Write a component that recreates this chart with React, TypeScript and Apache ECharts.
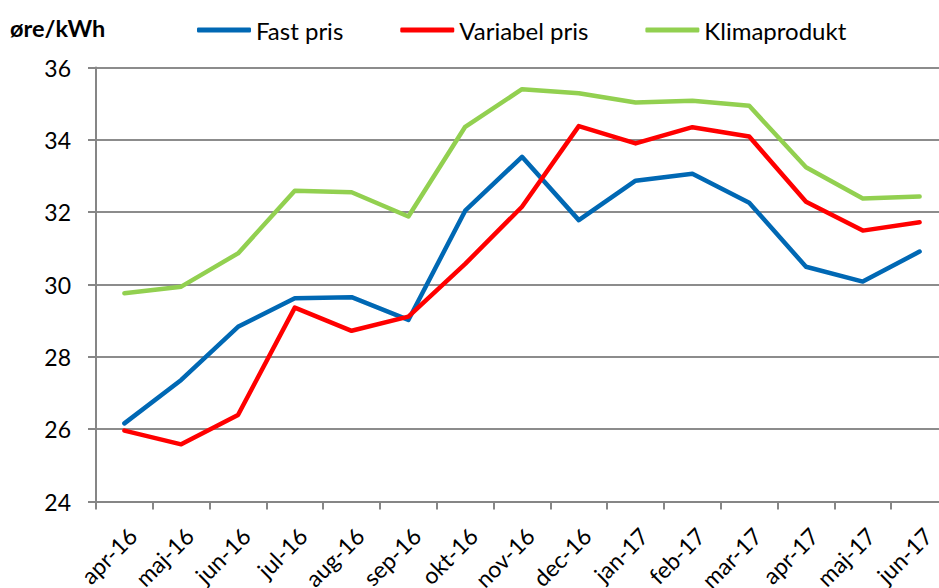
import React, { useEffect, useRef } from "react";
import * as echarts from "echarts";

const categories = [
  "apr-16", "maj-16", "jun-16", "jul-16", "aug-16", "sep-16", "okt-16", "nov-16",
  "dec-16", "jan-17", "feb-17", "mar-17", "apr-17", "maj-17", "jun-17",
];
const fastPris = [26.16, 27.36, 28.83, 29.62, 29.65, 29.02, 32.04, 33.53, 31.78, 32.87, 33.06, 32.26, 30.49, 30.08, 30.91];
const variabelPris = [25.96, 25.58, 26.39, 29.36, 28.72, 29.11, 30.57, 32.15, 34.38, 33.9, 34.35, 34.09, 32.29, 31.49, 31.72];
const klimaprodukt = [29.76, 29.94, 30.86, 32.59, 32.55, 31.88, 34.36, 35.4, 35.29, 35.03, 35.08, 34.94, 33.24, 32.38, 32.43];
const seriesNames = ["Fast pris", "Variabel pris", "Klimaprodukt"];
const unitLabel = "øre/kWh";

const FONT = "Lato, 'Open Sans', sans-serif";

export default function App() {
  const ref = useRef<HTMLDivElement>(null);
  useEffect(() => {
    if (!ref.current) return;
    const chart = echarts.init(ref.current, null, { renderer: "svg" });
    const colors = ["#0068b4", "#ff0000", "#92d050"];
    const datasets = [fastPris, variabelPris, klimaprodukt];
    chart.setOption({
      animation: false,
      backgroundColor: "#ffffff",
      title: {
        text: unitLabel,
        left: 5,
        top: 11,
        textStyle: { fontFamily: FONT, fontSize: 23.5, fontWeight: "bold", color: "#000" },
      },
      legend: {
        top: 13,
        left: 192,
        itemWidth: 54,
        itemHeight: 5,
        itemGap: 57,
        icon: "roundRect",
        textStyle: { fontFamily: FONT, fontSize: 24, color: "#000" },
        data: seriesNames,
      },
      grid: {
        left: 96,
        top: 67.5,
        right: -9,
        bottom: 86.5,
        containLabel: false,
        outerBoundsMode: "none",
      },
      xAxis: {
        type: "category",
        data: categories,
        boundaryGap: true,
        axisLine: { lineStyle: { color: "#868686", width: 2 } },
        axisTick: { show: true, length: 8, lineStyle: { color: "#868686", width: 2 } },
        axisLabel: {
          rotate: 45,
          margin: 22,
          interval: 0,
          align: "right",
          verticalAlign: "top",
          fontFamily: FONT,
          fontSize: 23,
          color: "#000",
        },
      },
      yAxis: {
        type: "value",
        min: 24,
        max: 36,
        interval: 2,
        axisLine: { show: true, lineStyle: { color: "#868686", width: 2 } },
        axisTick: { show: true, length: 8, lineStyle: { color: "#868686", width: 2 } },
        splitLine: { lineStyle: { color: "#8c8c8c", width: 2 } },
        axisLabel: {
          margin: 25,
          fontFamily: FONT,
          fontSize: 23,
          color: "#000",
        },
      },
      series: datasets.map((d, i) => ({
        name: seriesNames[i],
        type: "line",
        data: d,
        symbol: "none",
        color: colors[i],
        lineStyle: { width: 4.5, color: colors[i], cap: "round", join: "round" },
      })),
    });
    return () => chart.dispose();
  }, []);
  return (
    <div
      ref={ref}
      style={{ position: "fixed", left: 0, top: 0, width: 939, height: 588 }}
    />
  );
}
